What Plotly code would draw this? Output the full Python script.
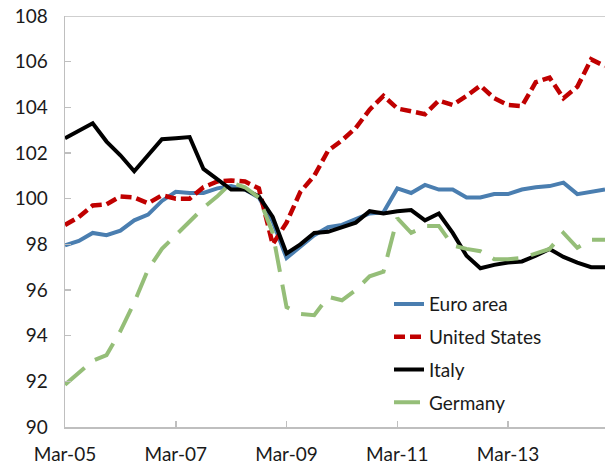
import plotly.graph_objects as go

years = list(range(2005, 2015))
months = ["Mar", "Jun", "Sep", "Dec"]
quarters = [f"{m}-{str(y)[2:]}" for y in years for m in months]

tick_labels = ["Mar-05", "Mar-07", "Mar-09", "Mar-11", "Mar-13"]

euro_area = [97.95, 98.15, 98.5, 98.4, 98.6, 99.05, 99.3, 99.9, 100.3, 100.25,
             100.25, 100.45, 100.55, 100.4, 100.05, 99.0, 97.4, 97.9, 98.4, 98.75,
             98.85, 99.1, 99.35, 99.4, 100.45, 100.25, 100.6, 100.4, 100.4, 100.05,
             100.05, 100.2, 100.2, 100.4, 100.5, 100.55, 100.7, 100.2, 100.3, 100.4]

united_states = [98.85, 99.2, 99.7, 99.75, 100.1, 100.05, 99.8, 100.15, 100.0, 100.0,
                 100.5, 100.75, 100.8, 100.75, 100.45, 98.0, 98.95, 100.3, 101.0, 102.1,
                 102.55, 103.1, 103.9, 104.5, 103.95, 103.85, 103.7, 104.3, 104.1, 104.5,
                 104.95, 104.4, 104.1, 104.05, 105.1, 105.3, 104.4, 104.9, 106.1, 105.8]

italy = [102.65, 103.0, 103.3, 102.5, 101.9, 101.2, 101.9, 102.6, 102.65, 102.7,
         101.3, 100.85, 100.4, 100.4, 100.1, 99.2, 97.6, 98.0, 98.5, 98.55,
         98.75, 98.95, 99.45, 99.35, 99.45, 99.5, 99.05, 99.35, 98.5, 97.5,
         96.95, 97.1, 97.2, 97.25, 97.5, 97.8, 97.45, 97.2, 97.0, 97.0]

germany = [91.85, 92.4, 92.9, 93.15, 94.2, 95.45, 96.9, 97.8, 98.4, 99.0,
           99.6, 100.1, 100.7, 100.5, 100.05, 98.5, 95.25, 94.95, 94.9, 95.7,
           95.55, 96.0, 96.6, 96.8, 99.15, 98.5, 98.8, 98.8, 97.95, 97.8,
           97.7, 97.35, 97.35, 97.4, 97.6, 97.8, 98.5, 97.85, 98.2, 98.2]

series = [
    ("Euro area", euro_area, "#4A7EB0", "solid", 4),
    ("United States", united_states, "#C00000", "11px,5px", 4.5),
    ("Italy", italy, "#000000", "solid", 4),
    ("Germany", germany, "#95BE78", "26px,13px", 4),
]

fig = go.Figure()
for i, (name, vals, color, dash, width) in enumerate(series):
    fig.add_trace(go.Scatter(
        x=quarters, y=vals, mode="lines", name=name,
        legendgroup=f"g{i}",
        line=dict(color=color, dash=dash, width=width),
    ))

font_family = "Lato, 'Open Sans', sans-serif"
y_max = 108

fig.update_layout(
    width=605, height=467,
    margin=dict(l=65, r=0, t=16, b=40),
    paper_bgcolor="white", plot_bgcolor="white",
    font=dict(family=font_family, size=19, color="#1a1a1a"),
    showlegend=True,
    legend=dict(
        x=0.6, y=0.345, xanchor="left", yanchor="top",
        bgcolor="rgba(0,0,0,0)", font=dict(size=19, color="#1a1a1a"),
        tracegroupgap=5, itemwidth=30,
    ),
    xaxis=dict(
        type="category", range=[0, 39],
        tickvals=tick_labels, ticktext=tick_labels,
        showgrid=False, zeroline=False,
        showline=True, linecolor="#BFBFBF", linewidth=1.5,
        ticks="inside", ticklen=6, tickcolor="#BFBFBF", tickwidth=1.5,
        ticklabelstandoff=10,
        tickfont=dict(size=19),
    ),
    yaxis=dict(
        range=[90, y_max], dtick=2, tick0=90,
        showgrid=False, zeroline=False,
        showline=True, linecolor="#BFBFBF", linewidth=1.5,
        ticks="inside", ticklen=6, tickcolor="#BFBFBF", tickwidth=1.5,
        ticklabelstandoff=12, ticklabeloverflow="allow",
        tickfont=dict(size=19),
    ),
    shapes=[dict(
        type="line", xref="paper", yref="y", x0=0, x1=1, y0=y_max, y1=y_max,
        line=dict(color="#BFBFBF", width=1.5), layer="below",
    )],
)

# Remove the default page margin so the 605x467 figure fills the window exactly.
fig.write_html(
    "out.html",
    config={"displayModeBar": False, "staticPlot": True},
    post_script="document.body.style.margin='0';document.body.style.overflow='hidden';",
)
